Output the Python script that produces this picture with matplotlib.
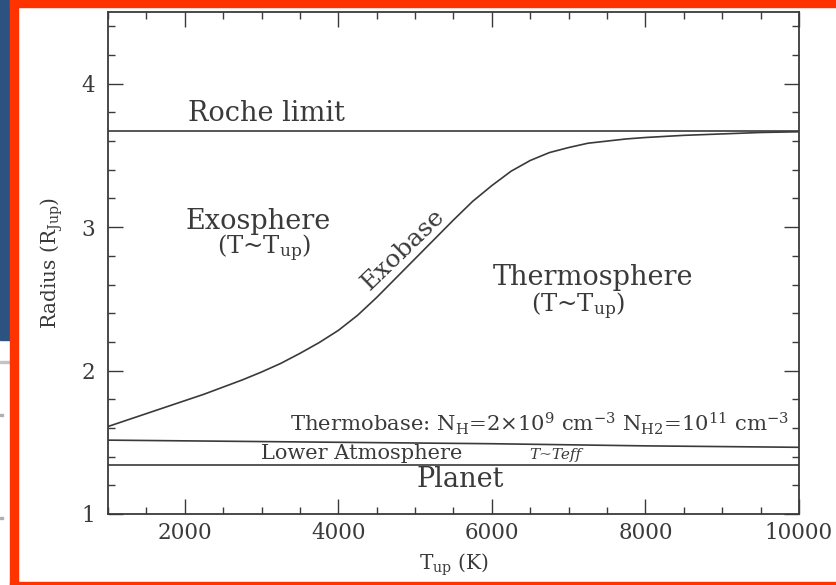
import matplotlib
matplotlib.use("Agg")
import matplotlib.pyplot as plt
from matplotlib.patches import Rectangle
from matplotlib.ticker import MultipleLocator

# --- values ---
t_up = [1000, 1250, 1500, 1750, 2000, 2250, 2500, 2750, 3000, 3250,
        3500, 3750, 4000, 4250, 4500, 4750, 5000, 5250, 5500, 5750,
        6000, 6250, 6500, 6750, 7000, 7250, 7500, 7750, 8000, 8500,
        9000, 9500, 10000]
r_exobase = [1.61, 1.655, 1.70, 1.745, 1.79, 1.835, 1.885, 1.935, 1.99, 2.05,
             2.12, 2.195, 2.28, 2.385, 2.51, 2.645, 2.78, 2.915, 3.05, 3.18,
             3.29, 3.39, 3.465, 3.52, 3.555, 3.585, 3.60, 3.615, 3.625, 3.64,
             3.65, 3.66, 3.665]

t_thermobase = [1000, 4000, 6000, 8000, 10000]
r_thermobase = [1.515, 1.50, 1.49, 1.475, 1.465]

r_roche = 3.667
r_planet = 1.34

x_ticks = [2000, 4000, 6000, 8000, 10000]
y_ticks = [1, 2, 3, 4]

ink = "#3a3a3a"
plt.rcParams["font.family"] = "DejaVu Serif"
plt.rcParams["mathtext.fontset"] = "dejavuserif"

fig = plt.figure(figsize=(8.37, 5.85), dpi=100)
W, H = 837.0, 585.0

# slide background bits around the figure
fig.patches.append(Rectangle((0, 1 - 340 / H), 10 / W, 340 / H,
                             transform=fig.transFigure, color="#2c5282", zorder=0))
fig.patches.append(Rectangle((0, 1 - 363 / H), 10 / W, 2 / H,
                             transform=fig.transFigure, color="#c4c4c4", zorder=0))
for yy in (415, 518):
    fig.patches.append(Rectangle((0, 1 - (yy + 1) / H), 3 / W, 2 / H,
                                 transform=fig.transFigure, color="#b0b0b0", zorder=0))
orange = "#ff3300"
fig.patches.append(Rectangle((10 / W, 0), 8 / W, 1, transform=fig.transFigure,
                             color=orange, zorder=1))
fig.patches.append(Rectangle((10 / W, 1 - 7 / H), 1, 7 / H, transform=fig.transFigure,
                             color=orange, zorder=1))
fig.patches.append(Rectangle((10 / W, 0), 1, 3 / H, transform=fig.transFigure,
                             color=orange, zorder=1))

ax = fig.add_axes([108 / W, 1 - 514 / H, (799 - 108) / W, (514 - 12) / H])
ax.set_xlim(1000, 10000)
ax.set_ylim(1, 4.5)

lw = 1.2
ax.plot(t_up, r_exobase, color=ink, lw=lw)
ax.plot(t_thermobase, r_thermobase, color=ink, lw=lw)
ax.axhline(r_roche, color=ink, lw=lw)
ax.axhline(r_planet, color=ink, lw=lw)

ax.set_xticks(x_ticks)
ax.set_yticks(y_ticks)
ax.xaxis.set_minor_locator(MultipleLocator(500))
ax.yaxis.set_minor_locator(MultipleLocator(0.2))
ax.tick_params(which="both", direction="in", top=True, right=True,
               color=ink, width=1.0, labelcolor=ink, labelsize=15.5)
ax.tick_params(which="major", length=11)
ax.tick_params(which="minor", length=5)
ax.tick_params(axis="y", pad=9)
ax.tick_params(axis="x", pad=6)
for sp in ax.spines.values():
    sp.set_color(ink)
    sp.set_linewidth(1.3)

ax.set_xlabel(r"T$_{\rm up}$ (K)", fontsize=14.5, color=ink, labelpad=5)
ax.set_ylabel(r"Radius (R$_{\rm Jup}$)", fontsize=14.5, color=ink, labelpad=12)

txt = dict(color=ink, ha="center", va="center")
ax.text(3070, 3.79, "Roche limit", fontsize=19.5, **txt)
ax.text(2960, 3.04, "Exosphere", fontsize=19.5, **txt)
ax.text(3030, 2.85, r"(T~T$_{\rm up}$)", fontsize=17.5, **txt)
ax.text(4840, 2.84, "Exobase", fontsize=18, rotation=44, rotation_mode="anchor", **txt)
ax.text(7320, 2.65, "Thermosphere", fontsize=19.5, **txt)
ax.text(7120, 2.45, r"(T~T$_{\rm up}$)", fontsize=17.5, **txt)
ax.text(9880, 1.63,
        r"Thermobase: N$_{\rm H}$=2$\times$10$^{9}$ cm$^{-3}$ N$_{\rm H2}$=10$^{11}$ cm$^{-3}$",
        fontsize=15.2, color=ink, ha="right", va="center")
ax.text(4300, 1.42, "Lower Atmosphere", fontsize=15, **txt)
ax.text(6820, 1.41, "T~Teff", fontsize=11, style="italic", **txt)
ax.text(5590, 1.24, "Planet", fontsize=19.5, **txt)

fig.savefig("out.png", dpi=100, facecolor="white")
